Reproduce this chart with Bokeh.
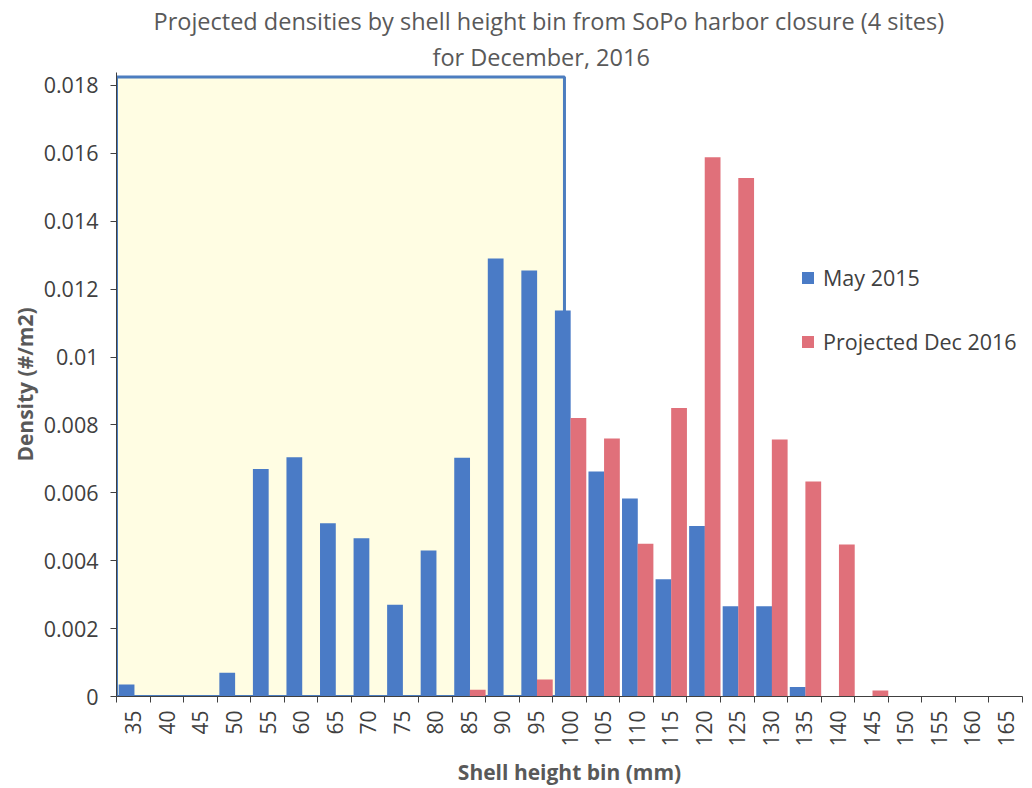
from bokeh.plotting import figure
from bokeh.models import (Range1d, FixedTicker, BoxAnnotation, Legend, LegendItem,
                          ColumnDataSource, Title)
from bokeh.transform import dodge
from bokeh.embed import file_html
from bokeh.resources import INLINE
import numpy as np

# ---- data ----
categories = ["35", "40", "45", "50", "55", "60", "65", "70", "75", "80", "85", "90", "95",
              "100", "105", "110", "115", "120", "125", "130", "135", "140", "145", "150",
              "155", "160", "165"]
may_2015 = [0.00035, 0, 0, 0.0007, 0.0067, 0.00705, 0.0051, 0.00466, 0.0027, 0.0043,
            0.00703, 0.0129, 0.01255, 0.01137, 0.00663, 0.00583, 0.00345, 0.00502,
            0.00266, 0.00266, 0.00028, 0, 0, 0, 0, 0, 0]
proj_dec_2016 = [0, 0, 0, 0, 0, 0, 0, 0, 0, 0, 0.0002, 0, 0.0005, 0.0082, 0.0076, 0.0045,
                 0.0085, 0.01588, 0.01527, 0.00757, 0.00633, 0.00448, 0.00018, 0, 0, 0, 0]
y_ticks = [0, 0.002, 0.004, 0.006, 0.008, 0.01, 0.012, 0.014, 0.016, 0.018]
y_tick_labels = ["0", "0.002", "0.004", "0.006", "0.008", "0.01", "0.012", "0.014", "0.016", "0.018"]
series_names = ["May 2015", "Projected Dec 2016"]
title_line1 = "Projected densities by shell height bin from SoPo harbor closure (4 sites)"
title_line2 = "for December, 2016"
# highlighted region (in category-index units / density units)
highlight_right = 13.35
highlight_top = 0.01825

BLUE = "#4A7BC6"
RED = "#E0707A"
FONT = "Open Sans"

n = len(categories)
centers = np.arange(n) + 0.5
src = ColumnDataSource(dict(x=centers, may=may_2015, proj=proj_dec_2016))

p = figure(width=1024, height=788, output_backend="svg", toolbar_location=None,
           x_range=Range1d(0, n), y_range=Range1d(0, 0.01838),
           min_border_left=116, min_border_right=2, min_border_top=72, min_border_bottom=91)
p.outline_line_color = None
p.xgrid.grid_line_color = None
p.ygrid.grid_line_color = None

box = BoxAnnotation(left=0, right=highlight_right, bottom=0, top=highlight_top,
                    fill_color="#FFFDE3", fill_alpha=1.0, line_color="#4C7DBF",
                    line_alpha=1.0, line_width=3, level="underlay")
p.add_layout(box)

r1 = p.vbar(x=dodge("x", -0.2, range=p.x_range), top="may", width=0.47, bottom=0,
            source=src, fill_color=BLUE, line_color=None)
r2 = p.vbar(x=dodge("x", 0.265, range=p.x_range), top="proj", width=0.47, bottom=0,
            source=src, fill_color=RED, line_color=None)

legend = Legend(items=[LegendItem(label=series_names[0], renderers=[r1]),
                       LegendItem(label=series_names[1], renderers=[r2])],
                location=(684, 340), background_fill_alpha=0, border_line_alpha=0,
                label_text_font=FONT, label_text_font_size="21.5px", label_text_color="#404040",
                glyph_width=15, glyph_height=15, spacing=35, label_standoff=8, padding=0, margin=0)
p.add_layout(legend)

# x axis
xa = p.xaxis[0]
xa.ticker = FixedTicker(ticks=list(centers), minor_ticks=list(np.arange(n + 1)))
xa.major_label_overrides = {float(c): lab for c, lab in zip(centers, categories)}
xa.major_label_orientation = np.pi / 2
xa.major_tick_line_color = None
xa.minor_tick_in = 0
xa.minor_tick_out = 6
xa.minor_tick_line_color = "#404040"
xa.axis_line_color = "#404040"
xa.major_label_text_font = FONT
xa.major_label_text_font_size = "21px"
xa.major_label_text_color = "#404040"
xa.major_label_standoff = 8
xa.axis_label = "Shell height bin (mm)"
xa.axis_label_text_font = FONT
xa.axis_label_text_font_size = "21px"
xa.axis_label_text_font_style = "bold"
xa.axis_label_text_color = "#595959"
xa.axis_label_standoff = 8

# y axis
ya = p.yaxis[0]
ya.ticker = FixedTicker(ticks=y_ticks)
ya.major_label_overrides = {t: lab for t, lab in zip(y_ticks, y_tick_labels)}
ya.minor_tick_line_color = None
ya.major_tick_in = 0
ya.major_tick_out = 6
ya.major_tick_line_color = "#404040"
ya.axis_line_color = "#404040"
ya.major_label_text_font = FONT
ya.major_label_text_font_size = "21.5px"
ya.major_label_text_color = "#404040"
ya.major_label_standoff = 12
ya.axis_label = "Density (#/m2)"
ya.axis_label_text_font = FONT
ya.axis_label_text_font_size = "21px"
ya.axis_label_text_font_style = "bold"
ya.axis_label_text_color = "#595959"
ya.axis_label_standoff = 2

p.add_layout(Title(text=title_line2, align="left", offset=316, text_font=FONT,
                   text_font_size="23.5px", text_font_style="normal", text_color="#595959",
                   standoff=0), "above")
p.add_layout(Title(text=title_line1, align="left", offset=37, text_font=FONT,
                   text_font_size="23.5px", text_font_style="normal", text_color="#595959",
                   standoff=4), "above")

open("out.html", "w").write(file_html(p, INLINE))
